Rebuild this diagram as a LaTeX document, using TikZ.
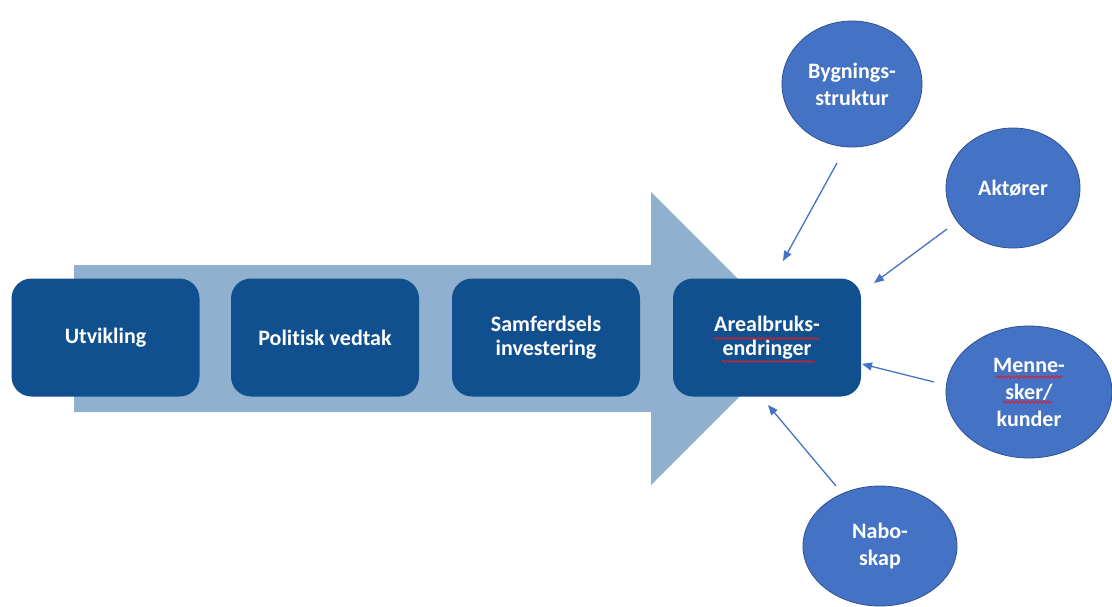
\documentclass[tikz,border=0pt]{standalone}
\usepackage{fontspec}
\setmainfont{Carlito}[Ligatures=NoCommon]
\usetikzlibrary{shapes.geometric,arrows.meta,decorations.pathmorphing}

\definecolor{stepblue}{RGB}{16,80,143}
\definecolor{flowblue}{RGB}{143,176,206}
\definecolor{factorblue}{RGB}{68,114,196}
\definecolor{factorrim}{RGB}{47,82,143}
\definecolor{squigred}{RGB}{220,30,40}

\tikzset{
  stepbox/.style={rectangle, rounded corners=20pt, fill=stepblue,
    minimum width=188pt, minimum height=118pt, inner sep=0pt,
    text=white, align=center, font=\bfseries\fontsize{22}{24}\selectfont},
  factor/.style={ellipse, fill=factorblue, draw=factorrim, line width=0.8pt,
    inner sep=0pt, text=white, align=center,
    font=\bfseries\fontsize{22}{27}\selectfont},
  influence/.style={draw=factorblue, line width=1.3pt,
    -{Triangle[length=10pt,width=8pt]}},
  squiggle/.style={draw=squigred, line width=0.9pt,
    decorate, decoration={snake, amplitude=1.1pt, segment length=4pt}}
}

\begin{document}
\begin{tikzpicture}[x=1pt,y=-1pt]
  \useasboundingbox (0,0) rectangle (1112,606);

  % broad background arrow
  \fill[flowblue] (74,265) -- (651,265) -- (651,192) -- (797.5,338.5)
    -- (651,485) -- (651,412) -- (74,412) -- cycle;

  % process steps
  \node[stepbox] (utv) at (105.5,337.5) {Utvikling};
  \node[stepbox] (pol) at (325,337.5) {Politisk vedtak};
  \node[stepbox] (sam) at (546,337.5) {Samferdsels\\investering};
  \node[stepbox] (are) at (767,337.5) {Arealbruks-\\endringer};

  % influencing factors
  \node[factor, minimum width=140pt, minimum height=126pt] (byg) at (852,84)
    {Bygnings-\\struktur};
  \node[factor, minimum width=134pt, minimum height=120pt] (akt) at (1013,188)
    {Aktører};
  \node[factor, minimum width=166pt, minimum height=132pt] (men) at (1029,392)
    {Menne-\\sker/\\kunder};
  \node[factor, minimum width=154pt, minimum height=120pt] (nab) at (880,546)
    {Nabo-\\skap};

  % spell-check underlines
  \draw[squiggle] ([xshift=-54pt,yshift=-1pt]are.center) -- ++(106,0);
  \draw[squiggle] ([xshift=-45pt,yshift=-24pt]are.center) -- ++(93,0);
  \draw[squiggle] ([xshift=-34pt,yshift=15pt]men.center) -- ++(68,0);
  \draw[squiggle] ([xshift=-26pt,yshift=-10pt]men.center) -- ++(49,0);

  % arrows towards land-use change
  \coordinate (bygS) at (837,163);  \coordinate (bygE) at (783,261);
  \coordinate (aktS) at (947,229);  \coordinate (aktE) at (874,283);
  \coordinate (menS) at (934,382);  \coordinate (menE) at (862,364);
  \coordinate (nabS) at (836,486);  \coordinate (nabE) at (768,405);
  \draw[influence] (bygS) -- (bygE);
  \draw[influence] (aktS) -- (aktE);
  \draw[influence] (menS) -- (menE);
  \draw[influence] (nabS) -- (nabE);
\end{tikzpicture}
\end{document}
